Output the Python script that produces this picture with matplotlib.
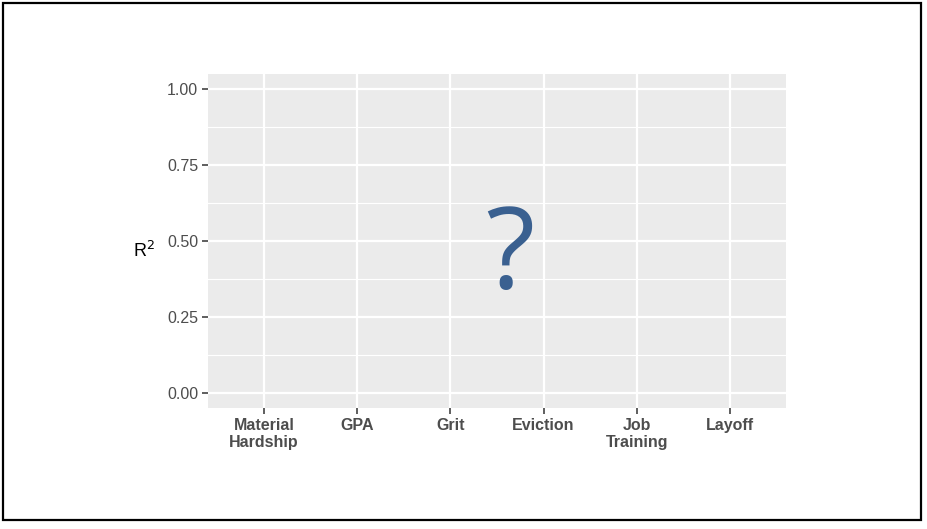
import numpy as np
import matplotlib.pyplot as plt
from matplotlib.patches import Rectangle

# categories on the x axis (no data shown yet, only a placeholder)
categories = ["Material\nHardship", "GPA", "Grit", "Eviction", "Job\nTraining", "Layoff"]
y_ticks = [0.00, 0.25, 0.50, 0.75, 1.00]
y_minor = [0.125, 0.375, 0.625, 0.875]

W, H = 928, 529
fig = plt.figure(figsize=(W / 100, H / 100), dpi=100)

# slide border
fig.patches.append(Rectangle((3 / W, 1 - 520 / H), 918 / W, 517 / H,
                             transform=fig.transFigure, fill=False,
                             edgecolor='black', linewidth=1.6))

ax = fig.add_axes([208 / W, 1 - 408 / H, 578 / W, 334 / H])
ax.set_facecolor('#EBEBEB')
for s in ax.spines.values():
    s.set_visible(False)

x = np.arange(1, len(categories) + 1)
ax.set_xlim(0.4, len(categories) + 0.6)
ax.set_ylim(-0.05, 1.05)

ax.set_xticks(x)
ax.set_xticklabels(categories, fontweight='bold', fontsize=11.5,
                   color='#4D4D4D', family='Liberation Sans', linespacing=1.15)
ax.set_yticks(y_ticks)
ax.set_yticklabels(["%.2f" % v for v in y_ticks], fontsize=11.5,
                   color='#4D4D4D', family='Liberation Sans')
ax.set_yticks(y_minor, minor=True)
ax.tick_params(which='major', length=4.5, width=1.1, color='#333333', pad=2.5)
ax.tick_params(which='minor', length=0)

ax.grid(which='major', color='white', linewidth=1.6)
ax.grid(which='minor', axis='y', color='white', linewidth=0.8)
ax.set_axisbelow(True)

ax.set_ylabel("R$^2$", rotation=0, fontsize=13, family='Liberation Sans',
              labelpad=0, va='center')
ax.yaxis.set_label_coords(-0.11, 0.47)

# placeholder question mark
ax.text(0.522, 0.449, "?", transform=ax.transAxes, ha='center', va='center',
        fontsize=82, color='#3A6090', family='Open Sans')

fig.savefig("out.png", dpi=100)
